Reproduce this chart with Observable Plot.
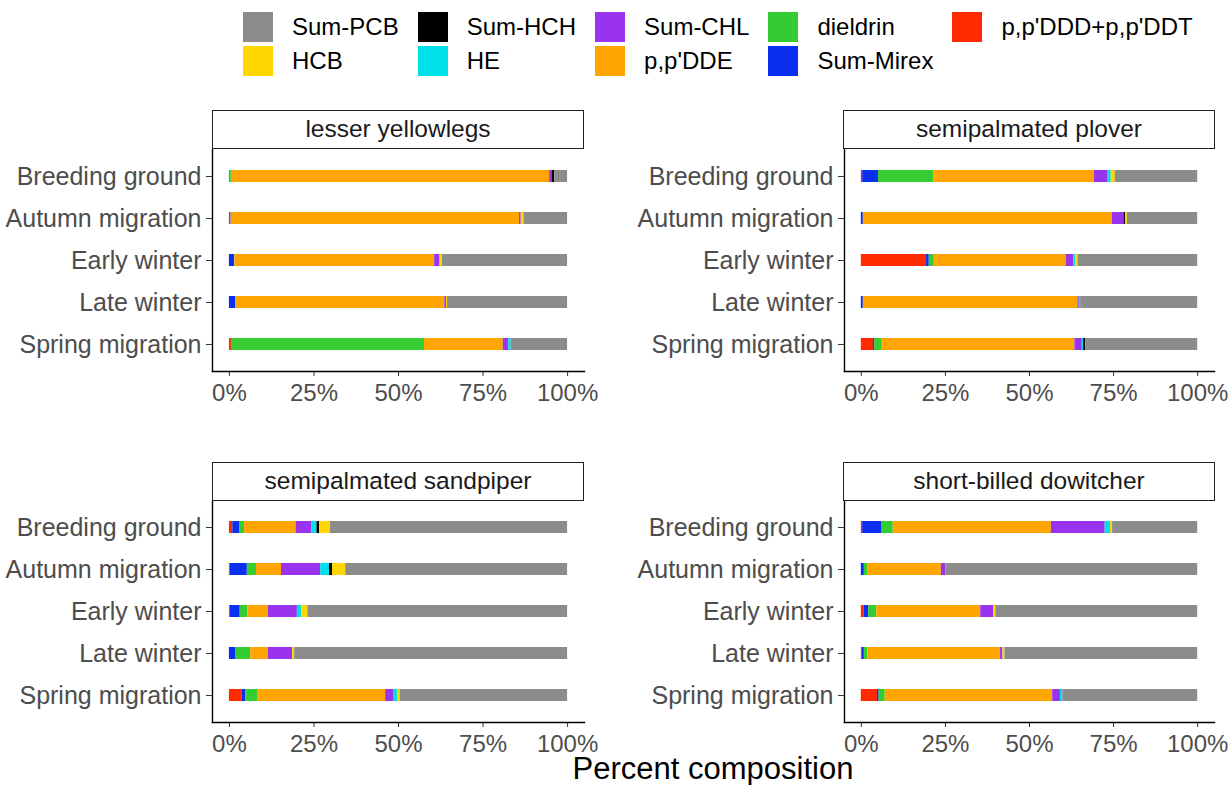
<!DOCTYPE html>
<html>
<head>
<meta charset="utf-8">
<script src="https://cdn.jsdelivr.net/npm/d3@7"></script>
<script src="https://cdn.jsdelivr.net/npm/@observablehq/plot@0.6"></script>
<style>
  html, body { margin: 0; padding: 0; background: #fff; }
  #root { position: relative; width: 1229px; height: 785px; overflow: hidden; font-family: "Liberation Sans", Arial, Helvetica, sans-serif; }
  .legend { position: absolute; left: 243px; top: 12px; display: grid; grid-template-rows: 30px 30px; row-gap: 4px; grid-auto-flow: column; column-gap: 19px; }
  .item { display: flex; align-items: center; font-size: 24px; color: #000; white-space: nowrap; }
  .key { width: 30px; height: 30px; margin-right: 19px; flex: none; }
  .strip { position: absolute; box-sizing: border-box; height: 39px; border: 1.5px solid #222; background: #fff; font-size: 24.5px; color: #1a1a1a; text-align: center; line-height: 35px; }
  .panel { position: absolute; }
  .xtitle { position: absolute; left: 213px; width: 1000px; top: 753px; text-align: center; font-size: 31px; color: #000; line-height: 31px; }
</style>
</head>
<body>
<div id="root"></div>
<script>
// ---- data ----
const periods = ["Breeding ground", "Autumn migration", "Early winter", "Late winter", "Spring migration"];
// stacking order, left to right
const compounds = ["p,p'DDD+p,p'DDT", "Sum-Mirex", "dieldrin", "p,p'DDE", "Sum-CHL", "HE", "Sum-HCH", "HCB", "Sum-PCB"];
const colors = ["#ff2a00", "#0a2ff0", "#33cc33", "#ffa500", "#9933ee", "#00e0ea", "#000000", "#ffd700", "#8c8c8c"];
const speciesNames = ["lesser yellowlegs", "semipalmated plover", "semipalmated sandpiper", "short-billed dowitcher"];

// rows = periods, columns = compounds (percent)
const lesserYellowlegs = [
  [0.0, 0.2, 0.4, 94.1, 0.7, 0.0, 0.8, 0.0, 3.8],
  [0.3, 0.2, 0.0, 85.3, 0.5, 0.0, 0.0, 0.8, 12.9],
  [0.0, 1.5, 0.1, 59.1, 1.6, 0.0, 0.0, 0.7, 37.0],
  [0.0, 1.8, 0.2, 61.7, 0.5, 0.0, 0.0, 0.3, 35.5],
  [0.6, 0.0, 57.1, 23.3, 1.6, 0.7, 0.0, 0.0, 16.7]
];
const semipalmatedPlover = [
  [0.4, 4.7, 16.5, 47.7, 3.9, 1.1, 0.0, 1.2, 24.5],
  [0.0, 0.6, 0.0, 74.0, 3.5, 0.0, 0.5, 0.5, 20.9],
  [19.4, 0.8, 1.5, 39.2, 2.3, 0.5, 0.0, 0.7, 35.6],
  [0.0, 0.6, 0.0, 63.8, 0.4, 0.4, 0.0, 0.0, 34.8],
  [3.6, 0.4, 2.2, 57.3, 2.2, 0.4, 0.6, 0.0, 33.3]
];
const semipalmatedSandpiper = [
  [1.0, 2.0, 1.5, 15.2, 4.7, 1.5, 0.8, 3.2, 70.1],
  [0.2, 5.1, 2.7, 7.4, 11.6, 2.6, 0.9, 3.9, 65.6],
  [0.2, 3.0, 2.3, 6.0, 8.6, 1.3, 0.0, 1.8, 76.8],
  [0.0, 1.8, 4.5, 5.2, 7.2, 0.0, 0.0, 0.6, 80.7],
  [3.8, 1.0, 3.5, 37.9, 2.5, 1.0, 0.0, 0.8, 49.5]
];
const shortBilledDowitcher = [
  [0.4, 5.6, 3.5, 47.0, 16.0, 1.6, 0.0, 0.6, 25.3],
  [0.0, 0.9, 1.0, 21.9, 1.3, 0.0, 0.0, 0.0, 74.9],
  [0.8, 1.4, 2.4, 30.9, 3.8, 0.0, 0.0, 0.7, 60.0],
  [0.2, 0.7, 1.0, 39.5, 0.7, 0.0, 0.0, 0.6, 57.3],
  [4.8, 0.5, 1.8, 49.8, 2.3, 0.7, 0.0, 0.0, 40.1]
];
const xTicks = [0, 0.25, 0.5, 0.75, 1];
const xTitle = "Percent composition";

// ---- layout ----
const root = document.getElementById("root");

// legend (column-major, reverse of stacking order)
const legend = document.createElement("div");
legend.className = "legend";
compounds.slice().reverse().forEach((c) => {
  const i = compounds.indexOf(c);
  const it = document.createElement("div");
  it.className = "item";
  const k = document.createElement("div");
  k.className = "key";
  k.style.background = colors[i];
  it.appendChild(k);
  it.appendChild(document.createTextNode(c));
  legend.appendChild(it);
});
root.appendChild(legend);

function panel(name, values, left, top, width, marginRight, stripLeft, stripTop) {
  const data = [];
  periods.forEach((p, i) => compounds.forEach((c, j) => data.push({period: p, compound: c, value: values[i][j]})));
  const chart = Plot.plot({
    width: width,
    height: 258,
    marginLeft: 212,
    marginRight: marginRight,
    marginTop: 0,
    marginBottom: 36,
    style: {fontFamily: '"Liberation Sans", Arial, sans-serif', fontSize: "24px", background: "transparent", overflow: "visible"},
    x: {domain: [-0.05, 1.05]},
    y: {domain: periods, paddingInner: 0.71, paddingOuter: 0.455},
    color: {domain: compounds, range: colors},
    marks: [
      Plot.barX(data, Plot.stackX({x: "value", y: "period", fill: "compound", order: compounds, offset: "normalize"})),
      Plot.axisX({ticks: xTicks, tickFormat: d3.format(".0%"), tickSize: 5, tickPadding: 7, label: null, fill: "#4d4d4d", stroke: "#333", fontSize: 24}),
      Plot.axisY({tickSize: 6, tickPadding: 5, label: null, fill: "#4d4d4d", stroke: "#333", fontSize: 25}),
      Plot.frame({anchor: "left", stroke: "#000", strokeWidth: 1.4}),
      Plot.frame({anchor: "bottom", stroke: "#000", strokeWidth: 1.4})
    ]
  });
  const wrap = document.createElement("div");
  wrap.className = "panel";
  wrap.style.left = left + "px";
  wrap.style.top = top + "px";
  wrap.appendChild(chart);
  root.appendChild(wrap);

  const strip = document.createElement("div");
  strip.className = "strip";
  strip.style.left = stripLeft + "px";
  strip.style.top = stripTop + "px";
  strip.style.width = "372px";
  strip.textContent = name;
  root.appendChild(strip);
}

panel(speciesNames[0], lesserYellowlegs, 0, 149, 600, 16, 212, 110);
panel(speciesNames[1], semipalmatedPlover, 632, 149, 597, 15, 843, 110);
panel(speciesNames[2], semipalmatedSandpiper, 0, 500, 600, 16, 212, 462);
panel(speciesNames[3], shortBilledDowitcher, 632, 500, 597, 15, 843, 462);

const t = document.createElement("div");
t.className = "xtitle";
t.textContent = xTitle;
root.appendChild(t);
</script>
</body>
</html>
